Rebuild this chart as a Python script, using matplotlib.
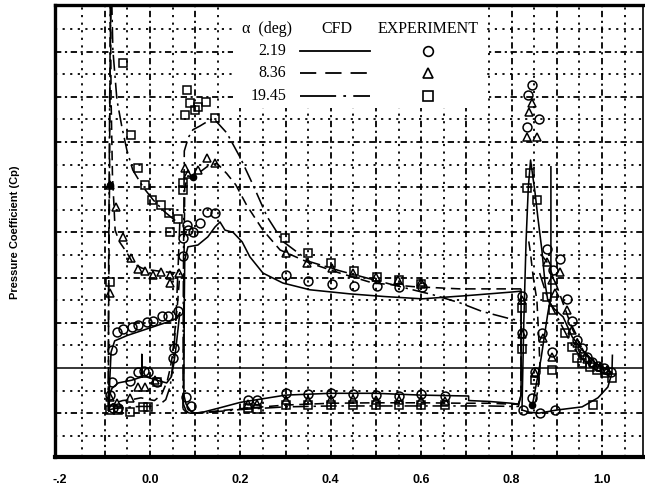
import matplotlib
matplotlib.use("Agg")
import matplotlib.pyplot as plt
from matplotlib.patches import Rectangle
from matplotlib.lines import Line2D

# ---------------- data ----------------
xtick_vals = [-0.2, 0.0, 0.2, 0.4, 0.6, 0.8, 1.0]
xtick_labels = ['-.2', '0.0', '0.2', '0.4', '0.6', '0.8', '1.0']
legend_alpha = ['2.19', '8.36', '19.45']
ylabel_text = 'Pressure Coefficient (Cp)'

# CFD alpha = 2.19 (solid)
sol_slat_up_x = [-0.091, -0.089, -0.086, -0.078, -0.05, -0.02, 0.01, 0.04, 0.06, 0.066]
sol_slat_up_cp = [0.95, 0.3, -0.35, -0.6, -0.72, -0.82, -0.92, -1.02, -1.1, -1.22]
sol_slat_lo_x = [-0.091, -0.089, -0.084, -0.07, -0.04, -0.025, -0.018, -0.018, -0.018, -0.007,
                 0.015, 0.037, 0.047, 0.052, 0.057, 0.062, 0.066]
sol_slat_lo_cp = [0.95, 0.6, 0.45, 0.33, 0.27, 0.22, 0.2, -0.3, 0.2, 0.2,
                  0.27, 0.33, 0.2, -0.05, -0.4, -0.85, -1.22]
sol_main_up_x = [0.075, 0.076, 0.077, 0.084, 0.106, 0.128, 0.144, 0.155, 0.166, 0.184, 0.204,
                 0.221, 0.25, 0.294, 0.354, 0.442, 0.52, 0.602, 0.7, 0.8, 0.821]
sol_main_up_cp = [0.6, -1.5, -2.39, -2.68, -2.72, -2.9, -3.12, -3.23, -3.05, -3.0, -2.79,
                  -2.46, -2.1, -1.88, -1.73, -1.64, -1.58, -1.53, -1.6, -1.68, -1.7]
sol_main_lo_x = [0.075, 0.08, 0.09, 0.1, 0.12, 0.155, 0.2, 0.25, 0.3, 0.4, 0.5, 0.6, 0.705,
                 0.705, 0.75, 0.8, 0.815, 0.821, 0.821]
sol_main_lo_cp = [0.6, 0.8, 0.95, 1.0, 0.97, 0.88, 0.76, 0.68, 0.6, 0.56, 0.56, 0.6, 0.62,
                  0.72, 0.74, 0.78, 0.8, 0.6, -1.7]
sol_flap_up_x = [0.823, 0.827, 0.832, 0.837, 0.842, 0.852, 0.858, 0.867, 0.874, 0.88, 0.895,
                 0.914, 0.934, 0.956, 0.985, 1.013, 1.022, 1.023]
sol_flap_up_cp = [0.93, -1.0, -2.8, -4.0, -4.6, -3.87, -3.34, -2.61, -1.88, -1.5, -1.3,
                  -1.13, -0.69, -0.4, -0.11, 0.04, 0.11, -0.28]
sol_flap_lo_x = [0.823, 0.84, 0.86, 0.9, 0.956, 0.991, 1.013, 1.022]
sol_flap_lo_cp = [0.93, 0.98, 1.0, 0.93, 0.86, 0.66, 0.42, 0.11]
sol_flap_gap_x = [0.887, 0.887, 0.88, 0.865, 0.847]
sol_flap_gap_cp = [-4.45, -1.6, -1.2, -0.2, 0.77]

# CFD alpha = 8.36 (dashed)
das_slat_up_x = [-0.092, -0.0915, -0.0895, -0.0875, -0.086, -0.083, -0.077, -0.068, -0.055,
                 -0.045, -0.038, -0.018, 0.0, 0.03, 0.062, 0.066]
das_slat_up_cp = [0.95, -1.0, -4.0, -8.6, -6.0, -4.3, -3.05, -2.8, -2.61,
                  -2.45, -2.32, -2.21, -2.17, -2.13, -2.1, -2.1]
das_slat_lo_x = [-0.092, -0.088, -0.08, -0.06, -0.04, -0.02, 0.0, 0.01, 0.025, 0.038, 0.045,
                 0.05, 0.055, 0.06, 0.064, 0.066]
das_slat_lo_cp = [0.95, 0.85, 0.78, 0.72, 0.7, 0.66, 0.7, 0.72, 0.6, 0.3, 0.0,
                  -0.3, -0.8, -1.3, -1.8, -2.1]
das_main_up_x = [0.074, 0.075, 0.077, 0.084, 0.095, 0.106, 0.126, 0.148, 0.17, 0.19, 0.214,
                 0.25, 0.288, 0.354, 0.42, 0.493, 0.582, 0.686, 0.75, 0.8, 0.821]
das_main_up_cp = [0.8, -2.0, -4.0, -4.25, -4.23, -4.3, -4.45, -4.53, -4.3, -4.05, -3.6,
                  -3.05, -2.61, -2.32, -2.1, -1.88, -1.8, -1.75, -1.75, -1.75, -1.75]
das_main_lo_x = [0.074, 0.08, 0.09, 0.1, 0.13, 0.2, 0.3, 0.4, 0.5, 0.6, 0.7, 0.75, 0.8, 0.815,
                 0.821, 0.821]
das_main_lo_cp = [0.8, 0.95, 1.0, 1.0, 0.97, 0.9, 0.82, 0.78, 0.77, 0.77, 0.78, 0.78, 0.8, 0.8,
                  0.6, -1.75]
das_flap_le_x = [0.838, 0.841, 0.848, 0.856, 0.86, 0.863, 0.858, 0.852]
das_flap_le_cp = [-2.8, -2.6, -2.0, -1.5, -0.7, 0.0, 0.5, 0.8]
das_flap_up_x = [0.866, 0.878, 0.895, 0.915, 0.935, 0.955, 0.975, 1.0, 1.02]
das_flap_up_cp = [-2.5, -2.35, -1.95, -1.4, -0.85, -0.45, -0.2, 0.0, 0.1]

# CFD alpha = 19.45 (dash-dot)
dd_slat_up_x = [-0.092, -0.0915, -0.089, -0.0855, -0.082, -0.073, -0.062, -0.051, -0.038,
                -0.015, 0.007, 0.033, 0.055, 0.062, 0.066]
dd_slat_up_cp = [0.95, -2.0, -6.0, -8.6, -7.04, -5.93, -5.33, -4.82, -4.38,
                 -4.0, -3.72, -3.45, -3.27, -3.2, -3.2]
dd_slat_lo_x = [-0.092, -0.088, -0.08, -0.06, -0.04, -0.02, 0.0, 0.02, 0.035, 0.045, 0.052,
                0.058, 0.063, 0.066]
dd_slat_lo_cp = [0.95, 0.92, 0.9, 0.88, 0.86, 0.85, 0.85, 0.82, 0.7, 0.4, -0.2,
                 -1.2, -2.4, -3.2]
dd_main_up_x = [0.073, 0.074, 0.076, 0.085, 0.095, 0.11, 0.14, 0.17, 0.2, 0.228, 0.259, 0.294,
                0.354, 0.42, 0.48, 0.553, 0.626, 0.686, 0.735, 0.8, 0.821]
dd_main_up_cp = [0.9, -2.0, -4.8, -5.1, -5.27, -5.35, -5.53, -5.2, -4.65, -4.05, -3.35, -2.8,
                 -2.35, -2.15, -1.99, -1.8, -1.62, -1.44, -1.25, -1.08, -1.05]
dd_main_lo_x = [0.073, 0.08, 0.09, 0.1, 0.13, 0.2, 0.3, 0.4, 0.5, 0.6, 0.7, 0.75, 0.8, 0.815,
                0.821, 0.821]
dd_main_lo_cp = [0.9, 0.98, 1.0, 1.0, 0.98, 0.92, 0.86, 0.84, 0.84, 0.84, 0.84, 0.84, 0.85, 0.85,
                 0.6, -1.05]
dd_flap_up_x = [0.862, 0.878, 0.892, 0.918, 0.934, 0.956, 0.98, 1.0, 1.022]
dd_flap_up_cp = [-2.1, -1.6, -1.3, -0.8, -0.5, -0.2, 0.0, 0.1, 0.2]

# Experiment alpha = 2.19 (circles)
exp_circ_x = [-0.084, -0.073, -0.06, -0.04, -0.027, -0.007, 0.007, 0.027, 0.04, 0.062,
              -0.088, -0.084, -0.082, -0.071, -0.044, -0.027, -0.013, -0.004, 0.015, 0.05, 0.053,
              0.073, 0.073, 0.082, 0.084, 0.095, 0.11, 0.126, 0.144,
              0.301, 0.35, 0.402, 0.451, 0.502, 0.551, 0.602, 0.822, 0.822,
              0.08, 0.09, 0.217, 0.237, 0.3, 0.35, 0.4, 0.45, 0.5, 0.55, 0.6, 0.653,
              0.836, 0.845, 0.86, 0.834, 0.878, 0.907, 0.892, 0.922, 0.934, 0.945, 0.956,
              0.967, 0.978, 0.991, 1.005, 1.02, 0.867, 0.889, 0.852, 0.845, 0.825, 0.863, 0.896]
exp_circ_cp = [-0.40, -0.80, -0.86, -0.91, -0.95, -1.02, -1.04, -1.15, -1.15, -1.26,
               0.6, 0.3, 0.88, 0.88, 0.28, 0.09, 0.06, 0.09, 0.3, -0.22, -0.44,
               -2.88, -2.48, -3.16, -3.05, -3.0, -3.2, -3.45, -3.43,
               -2.06, -1.93, -1.86, -1.81, -1.81, -1.8, -1.8, -1.6, -0.77,
               0.65, 0.85, 0.71, 0.71, 0.55, 0.57, 0.55, 0.57, 0.59, 0.62, 0.57, 0.62,
               -6.04, -6.26, -5.5, -5.33, -2.63, -2.41, -2.17, -1.53, -1.04, -0.62, -0.44,
               -0.24, -0.13, -0.04, 0.0, 0.09, -0.77, -0.35, 0.09, 0.66, 0.93, 1.0, 0.93]

# Experiment alpha = 8.36 (triangles)
exp_tri_x = [-0.088, -0.075, -0.06, -0.042, -0.026, -0.011, 0.007, 0.024, 0.044, 0.064, 0.044, -0.088,
             -0.088, -0.073, -0.044, -0.027, -0.011, 0.011,
             0.077, 0.084, 0.106, 0.126, 0.144, 0.3, 0.348, 0.402, 0.45, 0.5, 0.549, 0.6, 0.822, 0.822,
             0.217, 0.237, 0.3, 0.35, 0.4, 0.45, 0.5, 0.55, 0.6, 0.653,
             0.845, 0.839, 0.834, 0.856, 0.878, 0.907, 0.889, 0.896, 0.922, 0.934, 0.945, 0.956,
             0.967, 0.98, 0.995, 1.01, 0.889, 0.87, 0.852]
exp_tri_cp = [-4.05, -3.56, -2.9, -2.43, -2.2, -2.15, -2.06, -2.12, -2.06, -2.1, -1.88, -1.66,
              0.64, 0.77, 0.66, 0.42, 0.42, 0.27,
              -4.42, -4.3, -4.38, -4.65, -4.53, -2.54, -2.32, -2.21, -2.1, -2.01, -1.95, -1.9, -1.5, -0.75,
              0.8, 0.8, 0.7, 0.7, 0.68, 0.68, 0.7, 0.7, 0.7, 0.72,
              -5.86, -5.66, -5.1, -5.1, -2.35, -2.12, -1.95, -1.66, -1.28, -0.84, -0.55, -0.35,
              -0.2, -0.1, -0.02, 0.05, -0.24, -0.66, 0.1]

# Experiment alpha = 19.45 (squares)
exp_sq_x = [-0.088, -0.06, -0.042, -0.026, -0.011, 0.004, 0.024, 0.042, 0.062, 0.044,
            -0.088, -0.071, -0.044, -0.015, -0.004, 0.015,
            0.077, 0.082, 0.088, 0.1, 0.106, 0.124, 0.144, 0.073, 0.073,
            0.299, 0.35, 0.4, 0.451, 0.502, 0.551, 0.6, 0.822, 0.822,
            0.217, 0.237, 0.3, 0.35, 0.4, 0.45, 0.5, 0.55, 0.6, 0.653,
            0.841, 0.834, 0.856, 0.878, 0.892, 0.918, 0.934, 0.945, 0.956, 0.973, 0.989,
            1.007, 1.022, 0.889, 0.852, 0.98]
exp_sq_cp = [-1.9, -6.75, -5.15, -4.42, -4.05, -3.72, -3.6, -3.43, -3.3, -3.0,
             0.93, 0.93, 0.97, 0.86, 0.86, 0.3,
             -5.6, -6.15, -5.86, -5.7, -5.78, -5.89, -5.53, -4.1, -3.94,
             -2.88, -2.54, -2.32, -2.15, -2.01, -1.95, -1.85, -1.33, -0.42,
             0.88, 0.9, 0.82, 0.82, 0.82, 0.82, 0.82, 0.82, 0.82, 0.82,
             -4.31, -3.98, -3.72, -1.57, -1.28, -0.77, -0.46, -0.22, -0.11, -0.02, 0.04,
             0.11, 0.22, 0.05, 0.27, 0.82]

# filled (overlapping) experiment points
exp_filled_x = [-0.088, 0.095, 0.845]
exp_filled_cp = [-4.05, -4.23, 0.82]

# ---------------- styles ----------------
LS_SOLID = '-'
LS_DASH = (0, (6, 3.5))
LS_DASHDOT = (0, (10, 3, 1.5, 3))
LW = 1.15

fig = plt.figure(figsize=(6.45, 4.93), dpi=100)
ax = fig.add_axes([55 / 645, 36 / 493, 588 / 645, 452 / 493])
ax.set_xlim(-0.210, 1.0907)
ax.set_ylim(1.969, -8.03)

# grid
grid_major = (0, (3.5, 2.0, 1.2, 2.0))
grid_minor = (0, (1.2, 3.0))
for i in range(-3, 22):
    gx = i * 0.05
    ax.axvline(gx, color='black', lw=1.3, ls=grid_major if i % 2 == 0 else grid_minor, zorder=1)
for j in range(-15, 4):
    gy = j * 0.5
    if j == 0:
        ax.axhline(gy, color='black', lw=1.1, ls='-', zorder=1.2)
    else:
        ax.axhline(gy, color='black', lw=1.3, ls=grid_major if j % 2 == 0 else grid_minor, zorder=1)

# legend background (white box)
ax.add_patch(Rectangle((0.303, 0.772), 0.432, 0.24, transform=ax.transAxes,
                       facecolor='white', edgecolor='none', zorder=1.5))

segments = [
    (sol_slat_up_x, sol_slat_up_cp, LS_SOLID), (sol_slat_lo_x, sol_slat_lo_cp, LS_SOLID),
    (sol_main_up_x, sol_main_up_cp, LS_SOLID), (sol_main_lo_x, sol_main_lo_cp, LS_SOLID),
    (sol_flap_up_x, sol_flap_up_cp, LS_SOLID), (sol_flap_lo_x, sol_flap_lo_cp, LS_SOLID),
    (sol_flap_gap_x, sol_flap_gap_cp, LS_SOLID),
    (das_slat_up_x, das_slat_up_cp, LS_DASH), (das_slat_lo_x, das_slat_lo_cp, LS_DASH),
    (das_main_up_x, das_main_up_cp, LS_DASH), (das_main_lo_x, das_main_lo_cp, LS_DASH),
    (das_flap_le_x, das_flap_le_cp, LS_DASH), (das_flap_up_x, das_flap_up_cp, LS_DASH),
    (dd_slat_up_x, dd_slat_up_cp, LS_DASHDOT), (dd_slat_lo_x, dd_slat_lo_cp, LS_DASHDOT),
    (dd_main_up_x, dd_main_up_cp, LS_DASHDOT), (dd_main_lo_x, dd_main_lo_cp, LS_DASHDOT),
    (dd_flap_up_x, dd_flap_up_cp, LS_DASHDOT),
]
for sx, sy, ls in segments:
    ax.plot(sx, sy, color='black', lw=LW, ls=ls, zorder=3)

mk = dict(color='black', mfc='none', mew=1.1, ls='none', zorder=4)
ax.plot(exp_circ_x, exp_circ_cp, marker='o', ms=6.4, **mk)
ax.plot(exp_tri_x, exp_tri_cp, marker='^', ms=6.0, **mk)
ax.plot(exp_sq_x, exp_sq_cp, marker='s', ms=5.2, **mk)
ax.plot(exp_filled_x, exp_filled_cp, marker='o', ms=4.5, color='black', ls='none', zorder=4)

# axes styling
ax.set_xticks(xtick_vals)
ax.set_xticklabels(xtick_labels, fontfamily='Liberation Sans', fontweight='bold', fontsize=9)
ax.set_yticks([])
ax.tick_params(axis='x', length=0, pad=12)
ax.spines['left'].set_linewidth(2.4)
ax.spines['top'].set_linewidth(2.4)
ax.spines['bottom'].set_linewidth(3.0)
ax.spines['right'].set_linewidth(1.2)

fig.text(15 / 645, 1 - 232 / 493, ylabel_text, rotation=90, ha='center', va='center',
         fontfamily='Liberation Sans', fontweight='bold', fontsize=8)

# legend table
serif = ['Liberation Serif', 'DejaVu Serif']
col_a, col_line0, col_line1, col_cfd, col_exp = 0.361, 0.417, 0.536, 0.48, 0.634
row_y = [0.898, 0.850, 0.799]
head_y = 0.947
ax.text(col_a, head_y, 'α  (deg)', transform=ax.transAxes, ha='center', va='center',
        fontfamily=serif, fontsize=11.5, zorder=5)
ax.text(col_cfd, head_y, 'CFD', transform=ax.transAxes, ha='center', va='center',
        fontfamily=serif, fontsize=11.5, zorder=5)
ax.text(col_exp, head_y, 'EXPERIMENT', transform=ax.transAxes, ha='center', va='center',
        fontfamily=serif, fontsize=11.5, zorder=5)
leg_ls = [LS_SOLID, (0, (9, 5)), (0, (20, 4, 1.5, 4))]
leg_mk = [('o', 7.0), ('^', 7.0), ('s', 6.5)]
for ry, lab, ls, (m, ms) in zip(row_y, legend_alpha, leg_ls, leg_mk):
    ax.text(0.393, ry, lab, transform=ax.transAxes, ha='right', va='center',
            fontfamily=serif, fontsize=11.5, zorder=5)
    ax.add_line(Line2D([col_line0, col_line1], [ry, ry], transform=ax.transAxes,
                       color='black', lw=1.3, ls=ls, zorder=5))
    ax.add_line(Line2D([col_exp], [ry], transform=ax.transAxes, marker=m, ms=ms,
                       mfc='none', mec='black', mew=1.2, ls='none', zorder=5))

fig.savefig('out.png', dpi=100, facecolor='white')
